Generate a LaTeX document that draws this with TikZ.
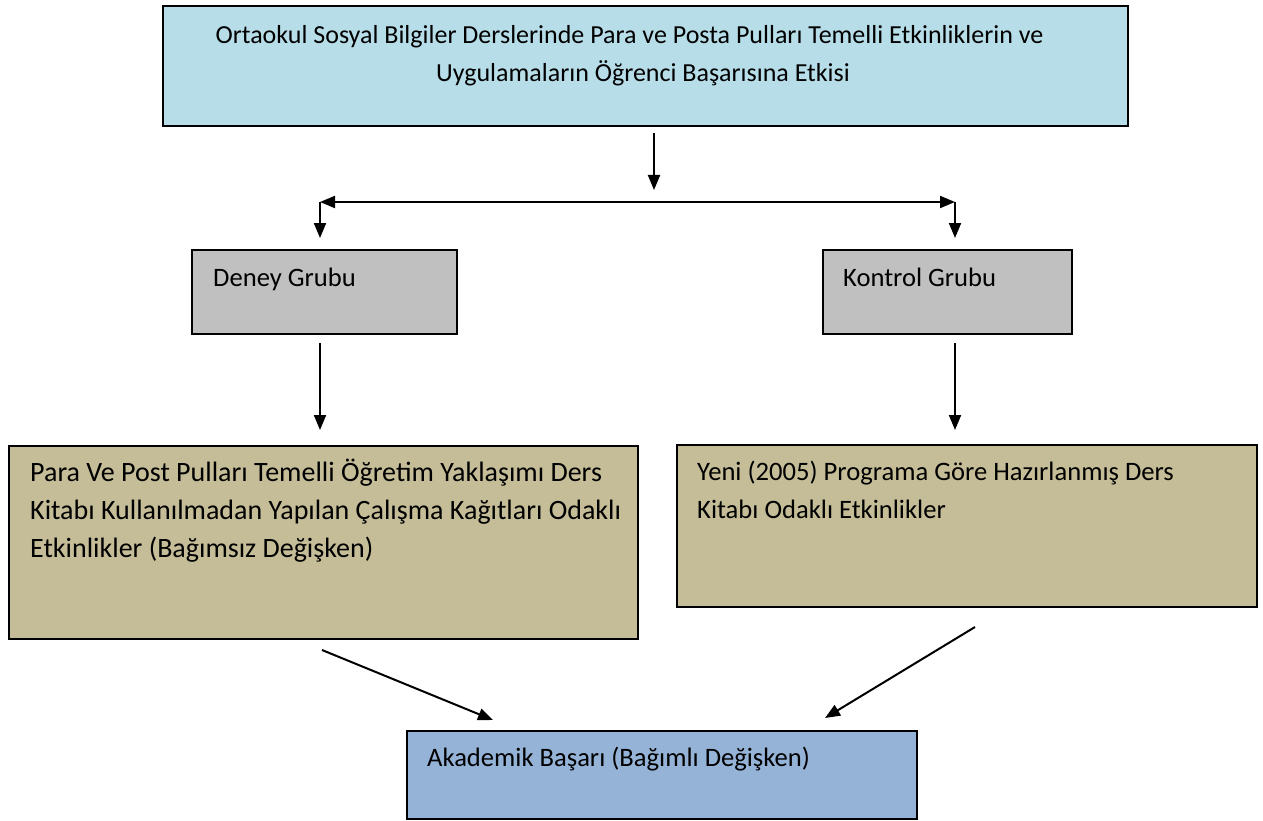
\documentclass[tikz,border=0pt]{standalone}
\usepackage{fontspec}
\setmainfont{Carlito}
\usetikzlibrary{arrows.meta,calc}
\definecolor{topblue}{HTML}{B7DDE8}
\definecolor{grpgray}{HTML}{C0C0C0}
\definecolor{tan}{HTML}{C4BD97}
\definecolor{botblue}{HTML}{95B3D7}
\begin{document}
\begin{tikzpicture}[x=1pt,y=-1pt,
  box/.style={draw=black, line width=1.6pt, inner sep=0pt, anchor=north west},
  txt/.style={inner sep=0pt, anchor=north west, align=left, font=\fontsize{26.6}{38}\selectfont},
  arr/.style={line width=2pt, -{Triangle[length=15pt,width=12pt]}},
  arrb/.style={line width=2pt, {Triangle[length=15pt,width=12pt]}-{Triangle[length=15pt,width=12pt]}}]
\useasboundingbox (0,0) rectangle (1263,821);
% boxes
\node[box, fill=topblue, minimum width=965pt, minimum height=120pt] (top) at (162,5) {};
\node[box, fill=grpgray, minimum width=265pt, minimum height=84pt] (deney) at (191,249) {};
\node[box, fill=grpgray, minimum width=249pt, minimum height=84pt] (kontrol) at (822,249) {};
\node[box, fill=tan, minimum width=629pt, minimum height=193pt] (left) at (8,445) {};
\node[box, fill=tan, minimum width=580pt, minimum height=162pt] (right) at (676,444) {};
\node[box, fill=botblue, minimum width=510pt, minimum height=88pt] (bottom) at (406,730) {};
% texts
\node[txt, anchor=north, align=center, font=\fontsize{26}{38}\selectfont] (toptxt) at (643,16.4) {\strut Ortaokul Sosyal Bilgiler Derslerinde Para ve Posta Pulları Temelli Etkinliklerin ve\hspace*{27pt}\\ Uygulamaların Öğrenci Başarısına Etkisi};
\node[txt] (deneytxt) at (213,259.4) {\strut Deney Grubu};
\node[txt] (kontroltxt) at (843,259.4) {\strut Kontrol Grubu};
\node[txt, font=\fontsize{28}{38}\selectfont] (lefttxt) at (30,454.4) {\strut Para Ve Post Pulları Temelli Öğretim Yaklaşımı Ders\\ Kitabı Kullanılmadan Yapılan Çalışma Kağıtları Odaklı\\ Etkinlikler (Bağımsız Değişken)};
\node[txt] (righttxt) at (697,453.4) {\strut Yeni (2005) Programa Göre Hazırlanmış Ders\\ Kitabı Odaklı Etkinlikler};
\node[txt] (bottomtxt) at (427,740) {\strut Akademik Başarı (Bağımlı Değişken)};
% connector points
\coordinate (tA) at (654,133);
\coordinate (tB) at (654,190);
\coordinate (hl) at (320,202);
\coordinate (hr) at (955,202);
\coordinate (dA) at (320,343);
\coordinate (dB) at (320,430);
\coordinate (kA) at (955,343);
\coordinate (kB) at (955,430);
\coordinate (lA) at (322,650);
\coordinate (lB) at (493,720);
\coordinate (rA) at (975,627);
\coordinate (rB) at (825,718);
% connectors
\draw[arr] (tA) -- (tB);
\draw[arrb] (hl) -- (hr);
\draw[arr, shorten >=11pt] (hl) -- (hl |- deney.north);
\draw[arr, shorten >=11pt] (hr) -- (hr |- kontrol.north);
\draw[arr] (dA) -- (dB);
\draw[arr] (kA) -- (kB);
\draw[arr] (lA) -- (lB);
\draw[arr] (rA) -- (rB);
\end{tikzpicture}
\end{document}
